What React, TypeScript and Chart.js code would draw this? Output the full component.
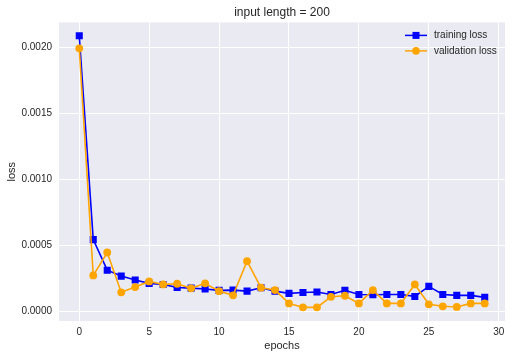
import React, { useEffect, useRef } from "react";
import { Chart, registerables } from "chart.js";

Chart.register(...registerables);

const epochs = Array.from({ length: 30 }, (_, i) => i);
const trainingLoss = [
  0.00209, 0.000544, 0.000312, 0.000267, 0.000237, 0.000212, 0.000204, 0.000181, 0.000176, 0.000169,
  0.000159, 0.000161, 0.000153, 0.000179, 0.000153, 0.000136, 0.000143, 0.000146, 0.000128, 0.000159,
  0.000128, 0.000126, 0.000128, 0.000128, 0.000113, 0.000189, 0.000128, 0.000121, 0.000121, 0.000106,
];
const validationLoss = [
  0.001995, 0.000272, 0.000446, 0.000144, 0.000184, 0.000227, 0.000204, 0.000209, 0.000174, 0.000212,
  0.000153, 0.000121, 0.00038, 0.000179, 0.000161, 0.00006, 0.00003, 0.00003, 0.00011, 0.000118,
  0.00006, 0.000161, 0.00006, 0.00006, 0.000204, 0.000053, 0.000038, 0.000033, 0.00006, 0.00006,
];
const xTicks = [0, 5, 10, 15, 20, 25, 30];
const yTicks = [0, 0.0005, 0.001, 0.0015, 0.002];

const FONT = "'Liberation Sans', Arial, sans-serif";
const TEXT = "#262626";

export default function App() {
  const ref = useRef<HTMLCanvasElement | null>(null);
  useEffect(() => {
    const bgPlugin = {
      id: "bg",
      beforeDraw(chart: any) {
        const { ctx, chartArea } = chart;
        ctx.save();
        ctx.fillStyle = "#EAEAF2";
        ctx.fillRect(chartArea.left, chartArea.top, chartArea.right - chartArea.left, chartArea.bottom - chartArea.top);
        ctx.restore();
      },
    };
    const legendPlugin = {
      id: "customLegend",
      afterDraw(chart: any) {
        const { ctx, chartArea } = chart;
        const x0 = chartArea.right - 100;
        const items = [
          { label: "training loss", color: "#0000FF", shape: "square", y: chartArea.top + 13 },
          { label: "validation loss", color: "#FFA500", shape: "circle", y: chartArea.top + 28.5 },
        ];
        ctx.save();
        for (const it of items) {
          ctx.strokeStyle = it.color;
          ctx.lineWidth = 1.5;
          ctx.beginPath();
          ctx.moveTo(x0, it.y);
          ctx.lineTo(x0 + 22, it.y);
          ctx.stroke();
          ctx.fillStyle = it.color;
          if (it.shape === "square") {
            ctx.fillRect(x0 + 11 - 3.5, it.y - 3.5, 7, 7);
          } else {
            ctx.beginPath();
            ctx.arc(x0 + 11, it.y, 3.8, 0, Math.PI * 2);
            ctx.fill();
          }
          ctx.fillStyle = TEXT;
          ctx.font = `10px ${FONT}`;
          ctx.textBaseline = "middle";
          ctx.textAlign = "left";
          ctx.fillText(it.label, x0 + 29, it.y);
        }
        ctx.restore();
      },
    };
    const chart = new Chart(ref.current as HTMLCanvasElement, {
      type: "line",
      data: {
        datasets: [
          {
            label: "training loss",
            data: epochs.map((e, i) => ({ x: e, y: trainingLoss[i] })),
            borderColor: "#0000FF",
            backgroundColor: "#0000FF",
            borderWidth: 1.6,
            pointStyle: "rect",
            pointRadius: 5,
            pointBorderWidth: 0,
            order: 1,
          },
          {
            label: "validation loss",
            data: epochs.map((e, i) => ({ x: e, y: validationLoss[i] })),
            borderColor: "#FFA500",
            backgroundColor: "#FFA500",
            borderWidth: 1.6,
            pointStyle: "circle",
            pointRadius: 3.9,
            pointBorderWidth: 0,
            order: 0,
          },
        ],
      },
      options: {
        animation: false,
        responsive: false,
        layout: { padding: { left: 0, right: 7, top: 0, bottom: 0 } },
        plugins: {
          legend: { display: false },
          tooltip: { enabled: false },
          title: {
            display: true,
            text: "input length = 200",
            fullSize: false,
            color: TEXT,
            font: { family: FONT, size: 12, weight: "normal", lineHeight: 1.2 },
            padding: { top: 5, bottom: 3 },
          },
        },
        scales: {
          x: {
            type: "linear",
            min: -1.45,
            max: 30.45,
            afterFit(scale: any) {
              scale.height = 38;
            },
            afterBuildTicks(scale: any) {
              scale.ticks = xTicks.map((v) => ({ value: v }));
            },
            grid: { color: "#FFFFFF", lineWidth: 1, drawTicks: false },
            border: { display: false },
            ticks: {
              color: TEXT,
              font: { family: FONT, size: 10 },
              padding: 5,
              autoSkip: false,
              maxRotation: 0,
              callback: (v: any) => String(v),
            },
            title: {
              display: true,
              text: "epochs",
              color: TEXT,
              font: { family: FONT, size: 11 },
              padding: { top: 0, bottom: 6.4 },
            },
          },
          y: {
            type: "linear",
            min: -0.0000735,
            max: 0.0021915,
            afterFit(scale: any) {
              scale.width = 59;
            },
            afterBuildTicks(scale: any) {
              scale.ticks = yTicks.map((v) => ({ value: v }));
            },
            grid: { color: "#FFFFFF", lineWidth: 1, drawTicks: false },
            border: { display: false },
            ticks: {
              color: TEXT,
              font: { family: FONT, size: 10 },
              padding: 7,
              autoSkip: false,
              callback: (v: any) => Number(v).toFixed(4),
            },
            title: {
              display: true,
              text: "loss",
              color: TEXT,
              font: { family: FONT, size: 11 },
              padding: { top: 5, bottom: 0 },
            },
          },
        },
      },
      plugins: [bgPlugin, legendPlugin],
    } as any);
    return () => chart.destroy();
  }, []);
  return (
    <div style={{ position: "fixed", left: 0, top: 0, width: 512, height: 359, background: "#fff" }}>
      <canvas ref={ref} width={512} height={359} style={{ width: 512, height: 359 }} />
    </div>
  );
}
